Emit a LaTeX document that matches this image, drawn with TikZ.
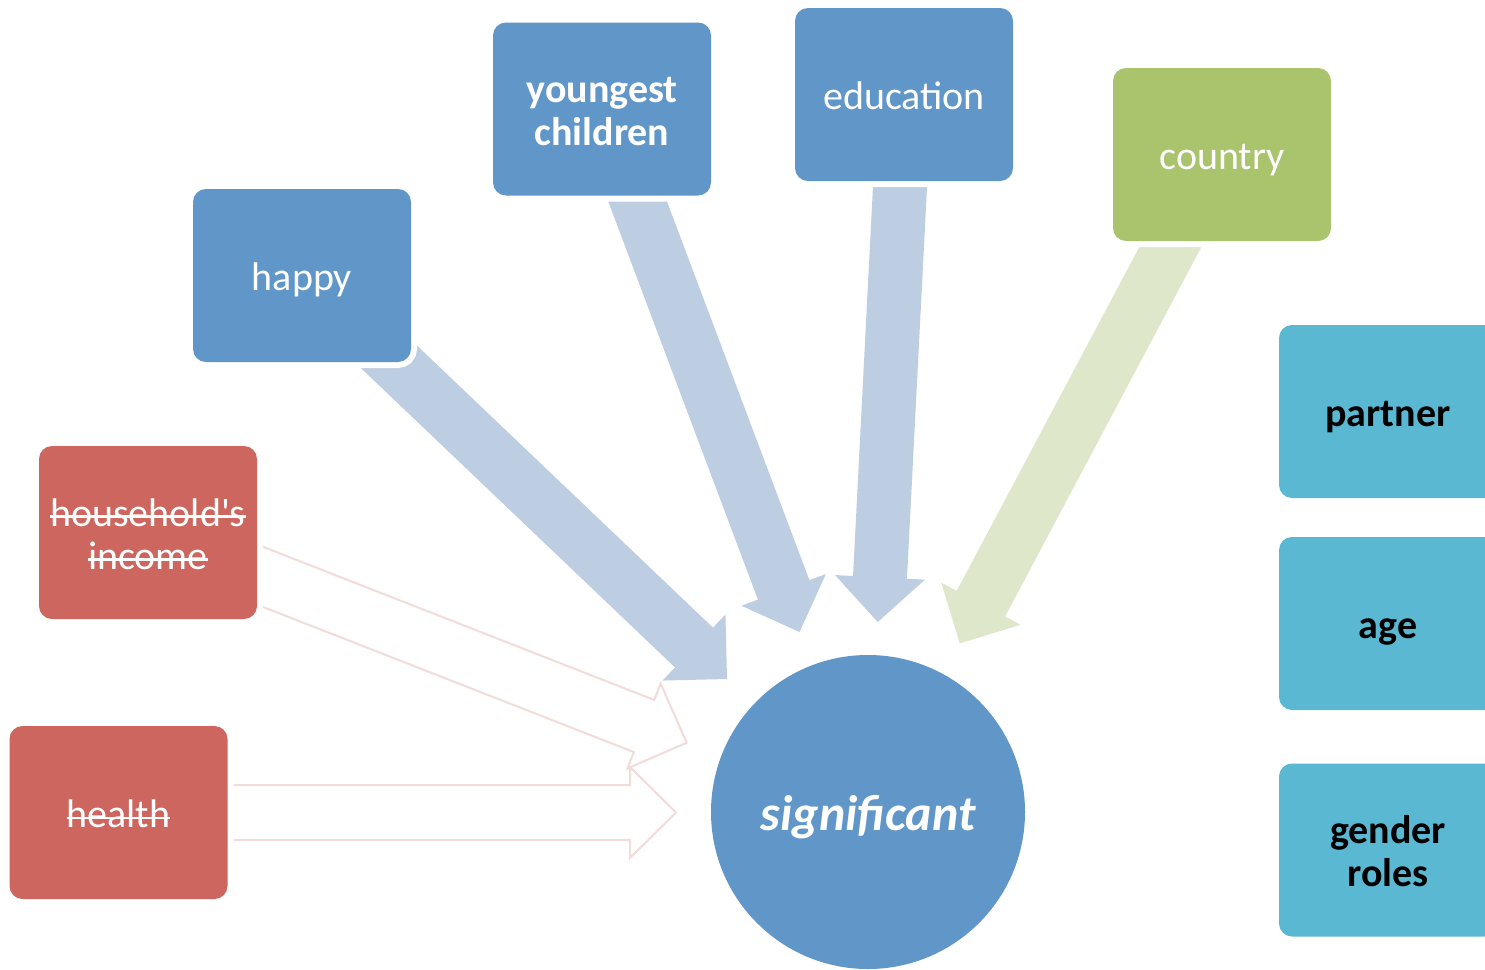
\documentclass[tikz,border=0pt]{standalone}
\usepackage{fontspec}
\setmainfont{Carlito}
\usetikzlibrary{calc}
\definecolor{boxblue}{RGB}{96,150,200}
\definecolor{boxgreen}{RGB}{169,196,108}
\definecolor{boxred}{RGB}{205,102,95}
\definecolor{boxteal}{RGB}{91,184,210}
\definecolor{arrblue}{RGB}{189,205,226}
\definecolor{arrgreen}{RGB}{222,231,202}
\definecolor{arrpink}{RGB}{242,220,219}
\newsavebox\strkbox
\newcommand\strk[1]{\sbox\strkbox{#1}\rlap{\rule[0.21em]{\wd\strkbox}{2.6pt}}\usebox\strkbox}
% one text line with fixed metrics: 0.9em above, 0.15em below the baseline
\newcommand\ls[1]{\rule[-0.15em]{0pt}{1.05em}\smash{#1}}
% #1 start, #2 tip, #3 shaft half width, #4 head half width, #5 head length, #6 style
\newcommand\blockarrow[6]{%
  \coordinate (ba-h) at ($(#2)!#5!(#1)$);
  \path[#6] ($(#1)!#3!90:(#2)$) -- ($(ba-h)!#3!-90:(#1)$) -- ($(ba-h)!#4!-90:(#1)$)
    -- (#2) -- ($(ba-h)!#4!90:(#1)$) -- ($(ba-h)!#3!90:(#1)$) -- ($(#1)!#3!-90:(#2)$) -- cycle;
}
\tikzset{
  basebox/.style={rectangle, rounded corners=13pt, inner sep=0pt, minimum width=218pt,
    minimum height=173pt, align=center, font=\fontsize{40}{42}\selectfont,
    preaction={draw=white, line width=12pt}},
  bluebox/.style={basebox, fill=boxblue, text=white},
  greenbox/.style={basebox, fill=boxgreen, text=white},
  redbox/.style={basebox, fill=boxred, text=white},
  tealbox/.style={basebox, fill=boxteal, text=black, font=\fontsize{40}{42}\selectfont\bfseries},
  hub/.style={circle, fill=boxblue, text=white, inner sep=0pt, minimum size=314pt,
    font=\fontsize{50}{56}\selectfont\bfseries\itshape},
  arrowblue/.style={fill=arrblue},
  arrowgreen/.style={fill=arrgreen},
  arrowpink/.style={fill=white, draw=arrpink, line width=2pt, line join=miter}
}
\begin{document}
\begin{tikzpicture}[x=1pt,y=-1pt]
\clip (0,0) rectangle (1485,969);
% arrow end points
\coordinate (sA) at (365,334);   \coordinate (tA) at (727,679);
\coordinate (sB) at (616.5,145.3); \coordinate (tB) at (799.5,632);
\coordinate (sC) at (904.3,102.7); \coordinate (tC) at (877.7,622);
\coordinate (sD) at (1203.7,184.2); \coordinate (tD) at (959.8,643.4);
\coordinate (sE) at (202,553);   \coordinate (tE) at (686.7,742.7);
\coordinate (sF) at (150,812.5); \coordinate (tF) at (676,812.5);
% arrows
\blockarrow{sE}{tE}{28pt}{45.6pt}{45.8pt}{arrowpink}
\blockarrow{sF}{tF}{27.5pt}{45.5pt}{46pt}{arrowpink}
\blockarrow{sA}{tA}{27.5pt}{45.6pt}{45.6pt}{arrowblue}
\blockarrow{sB}{tB}{27.5pt}{45.1pt}{45pt}{arrowblue}
\blockarrow{sC}{tC}{27pt}{45pt}{44.7pt}{arrowblue}
\blockarrow{sD}{tD}{27.4pt}{45pt}{45pt}{arrowgreen}
% boxes
\node[bluebox] (happy) at (302,275.5) {\ls{happy}};
\node[bluebox, font=\fontsize{40}{42}\selectfont\bfseries] (young) at (602,109) {\ls{youngest}\\\ls{children}};
\node[bluebox] (edu) at (904,94.5) {\ls{education}};
\node[greenbox] (country) at (1222,154.5) {\ls{country}};
\node[redbox] (income) at (148,532.5) {\ls{\strk{household\textquotesingle s}}\\\ls{\strk{income}}};
\node[redbox] (health) at (118.5,812.5) {\ls{\strk{health}}};
\node[tealbox] (partner) at (1388,411.5) {\ls{partner}};
\node[tealbox] (age) at (1388,623.5) {\ls{age}};
\node[tealbox] (gender) at (1388,850) {\ls{gender}\\\ls{roles}};
\node[hub] (sig) at (868,812) {\ls{significant}};
\end{tikzpicture}
\end{document}
